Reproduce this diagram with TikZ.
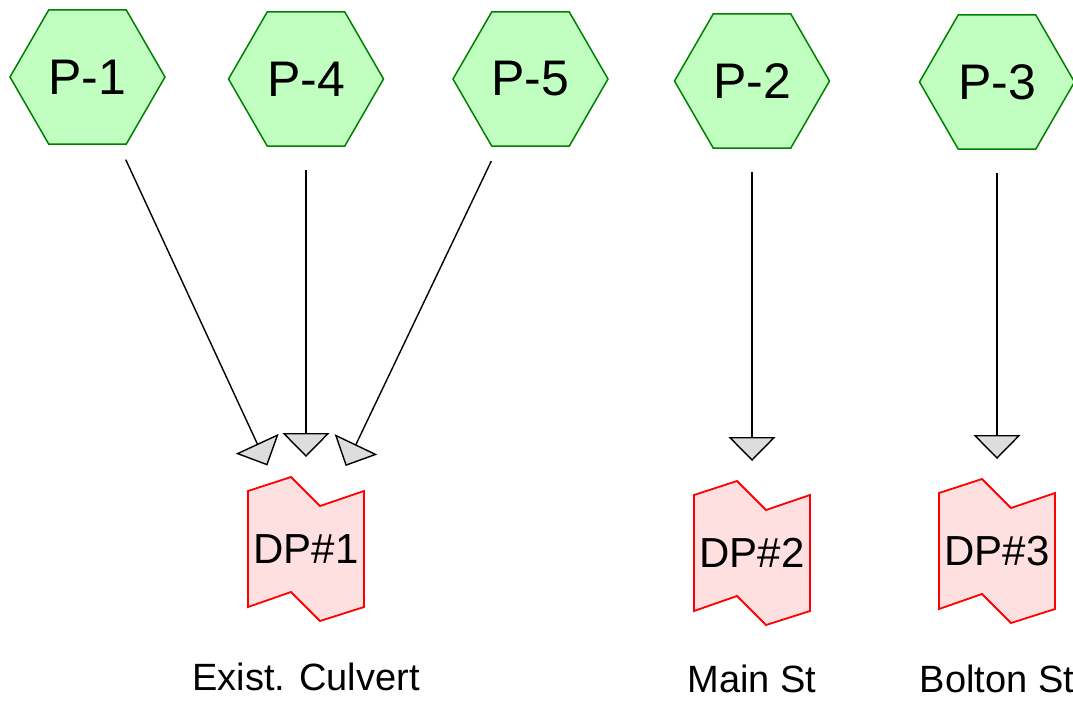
\documentclass[tikz,border=0pt]{standalone}
\usepackage{fontspec}
\setmainfont{Liberation Sans}
\usetikzlibrary{shapes.geometric,arrows.meta}
\definecolor{hexfill}{HTML}{C0FFC0}
\definecolor{hexline}{HTML}{008000}
\definecolor{dpfill}{HTML}{FFE0E0}
\definecolor{dpline}{HTML}{FF0000}
\definecolor{tipfill}{HTML}{DDDDDD}
\begin{document}
\begin{tikzpicture}[x=1pt,y=-1pt,
  hexnode/.style={regular polygon, regular polygon sides=6, minimum size=155pt,
    inner sep=0pt, draw=hexline, fill=hexfill, line width=1.5pt,
    font=\fontsize{50}{60}\selectfont},
  dplabel/.style={font=\fontsize{42}{50}\selectfont, inner sep=0pt},
  streetlabel/.style={font=\fontsize{38}{45}\selectfont, inner sep=0pt, anchor=base},
  flow/.style={draw=black, line width=1.4pt, shorten <=91pt, shorten >=92pt,
    -{Triangle[width=47pt,length=24pt,fill=tipfill]}},
  dpshape/.pic={\path[draw=dpline, fill=dpfill, line width=1.8pt, line join=miter]
    (-58,-58) -- (-15,-72) -- (14,-43) -- (58,-58) -- (58,58) -- (14,72)
    -- (-15,43) -- (-58,58) -- cycle;}
]
\fill[white] (0,0) rectangle (1073,702);
\useasboundingbox (0,0) rectangle (1073,702);

\node[hexnode] (P1) at (87.5,77) {P-1};
\node[hexnode] (P4) at (306,79) {P-4};
\node[hexnode] (P5) at (530.5,79) {P-5};
\node[hexnode] (P2) at (752,81) {P-2};
\node[hexnode] (P3) at (997,82) {P-3};

\pic at (306,549) {dpshape};
\node[dplabel] (DP1) at (306,549) {DP\#1};
\pic at (752,553) {dpshape};
\node[dplabel] (DP2) at (752,553) {DP\#2};
\pic at (997,551) {dpshape};
\node[dplabel] (DP3) at (997,551) {DP\#3};

\node[streetlabel] (L1) at (306,690) {Exist. Culvert};
\node[streetlabel] (L2) at (752,692) {Main St};
\node[streetlabel] (L3) at (997,692) {Bolton St};

\draw[flow] (P1.center) -- (DP1.center);
\draw[flow] (P4.center) -- (DP1.center);
\draw[flow] (P5.center) -- (DP1.center);
\draw[flow] (P2.center) -- (DP2.center);
\draw[flow] (P3.center) -- (DP3.center);
\end{tikzpicture}
\end{document}
